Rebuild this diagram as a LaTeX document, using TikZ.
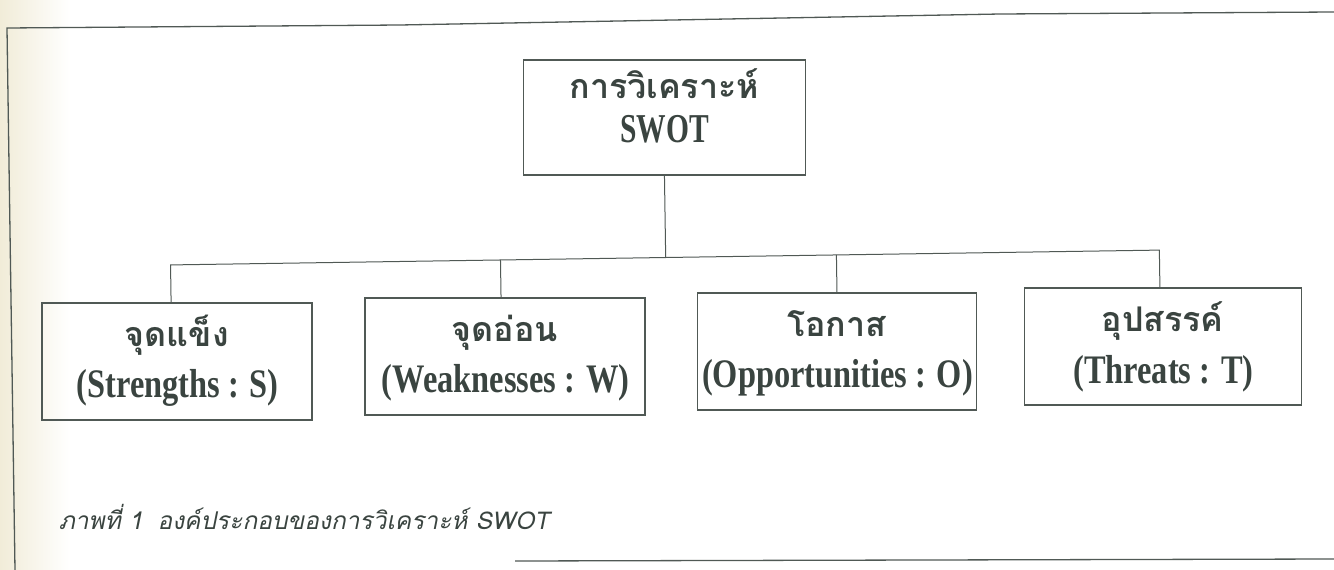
\documentclass[tikz,border=0pt]{standalone}
\usepackage{fontspec}
\usetikzlibrary{calc}
\newfontfamily\thaifont[Script=Thai]{Loma}
\newfontfamily\capfont[Script=Thai,FakeSlant=0.2]{Loma}
\newfontfamily\enfont[FakeStretch=0.8]{Liberation Serif}
\newfontfamily\entitle[FakeStretch=0.72]{Liberation Serif}
\definecolor{ink}{HTML}{3A4440}
\definecolor{rulec}{HTML}{505955}
\definecolor{paper}{HTML}{F1ECD8}
\begin{document}
\begin{tikzpicture}[x=1pt,y=-1pt,
  box/.style={draw=rulec,line width=1.8pt,rectangle,inner sep=0pt},
  link/.style={draw=rulec,line width=1pt},
  th/.style={text=ink,inner sep=0pt,anchor=base,text height=22pt,text depth=8pt,font=\thaifont\bfseries\fontsize{34}{40}\selectfont},
  en/.style={text=ink,inner sep=0pt,anchor=base,font=\enfont\bfseries\fontsize{40.5}{48}\selectfont},
  entop/.style={text=ink,inner sep=0pt,anchor=base,font=\entitle\bfseries\fontsize{41}{48}\selectfont},
  captext/.style={text=ink,inner sep=0pt,anchor=base west,font=\capfont\fontsize{24.5}{30}\selectfont},
  pageframe/.style={draw=rulec,line width=1.3pt}]
\useasboundingbox (0,0) rectangle (1334,570);
\fill[white] (0,0) rectangle (1334,570);
\shade[left color=paper,right color=white] (0,0) rectangle (70,570);
% page frame
\draw[pageframe] (1334,12) -- (1000,14) -- (400,25) -- (7,28) -- (15,570);
\draw[pageframe] (515,561) -- (1334,559);
\begin{scope}[rotate around={0.86:(667,285)}]
  \node[box,minimum width=282,minimum height=115] (top) at (667,117.5) {};
  \node[th] (topth) at ($(top.center)+(0,-19)$) {การวิเคราะห์};
  \node[entop] (topen) at ($(top.center)+(0,24.5)$) {SWOT};
  \node[box,minimum width=270,minimum height=117] (S) at (176,354) {};
  \node[box,minimum width=280,minimum height=117] (W) at (504,354) {};
  \node[box,minimum width=279,minimum height=117] (O) at (836,354) {};
  \node[box,minimum width=277,minimum height=117] (T) at (1162,354) {};
  \node[th] (Sth) at ($(S.center)+(0,-15)$) {จุดแข็ง};
  \node[en] (Sen) at ($(S.center)+(0,36.5)$) {(Strengths : S)};
  \node[th] (Wth) at ($(W.center)+(0,-15)$) {จุดอ่อน};
  \node[en] (Wen) at ($(W.center)+(0,36.5)$) {(Weaknesses : W)};
  \node[th] (Oth) at ($(O.center)+(0,-15)$) {โอกาส};
  \node[en] (Oen) at ($(O.center)+(0,36.5)$) {(Opportunities : O)};
  \node[th] (Tth) at ($(T.center)+(0,-15)$) {อุปสรรค์};
  \node[en] (Ten) at ($(T.center)+(0,36.5)$) {(Threats : T)};
  \coordinate (bar) at (0,257.5);
  \draw[link] (top.south) -- (top.south |- bar);
  \draw[link] ([xshift=-6pt]S.north) -- ([xshift=-6pt]S.north |- bar) -- ([xshift=-3pt]T.north |- bar) -- ([xshift=-3pt]T.north);
  \draw[link] ([xshift=-4pt]W.north) -- ([xshift=-4pt]W.north |- bar);
  \draw[link] (O.north) -- (O.north |- bar);
  \node[captext] (caption) at (55,520) {ภาพที่ 1\hspace{0.6em}องค์ประกอบของการวิเคราะห์ SWOT};
\end{scope}
\end{tikzpicture}
\end{document}
